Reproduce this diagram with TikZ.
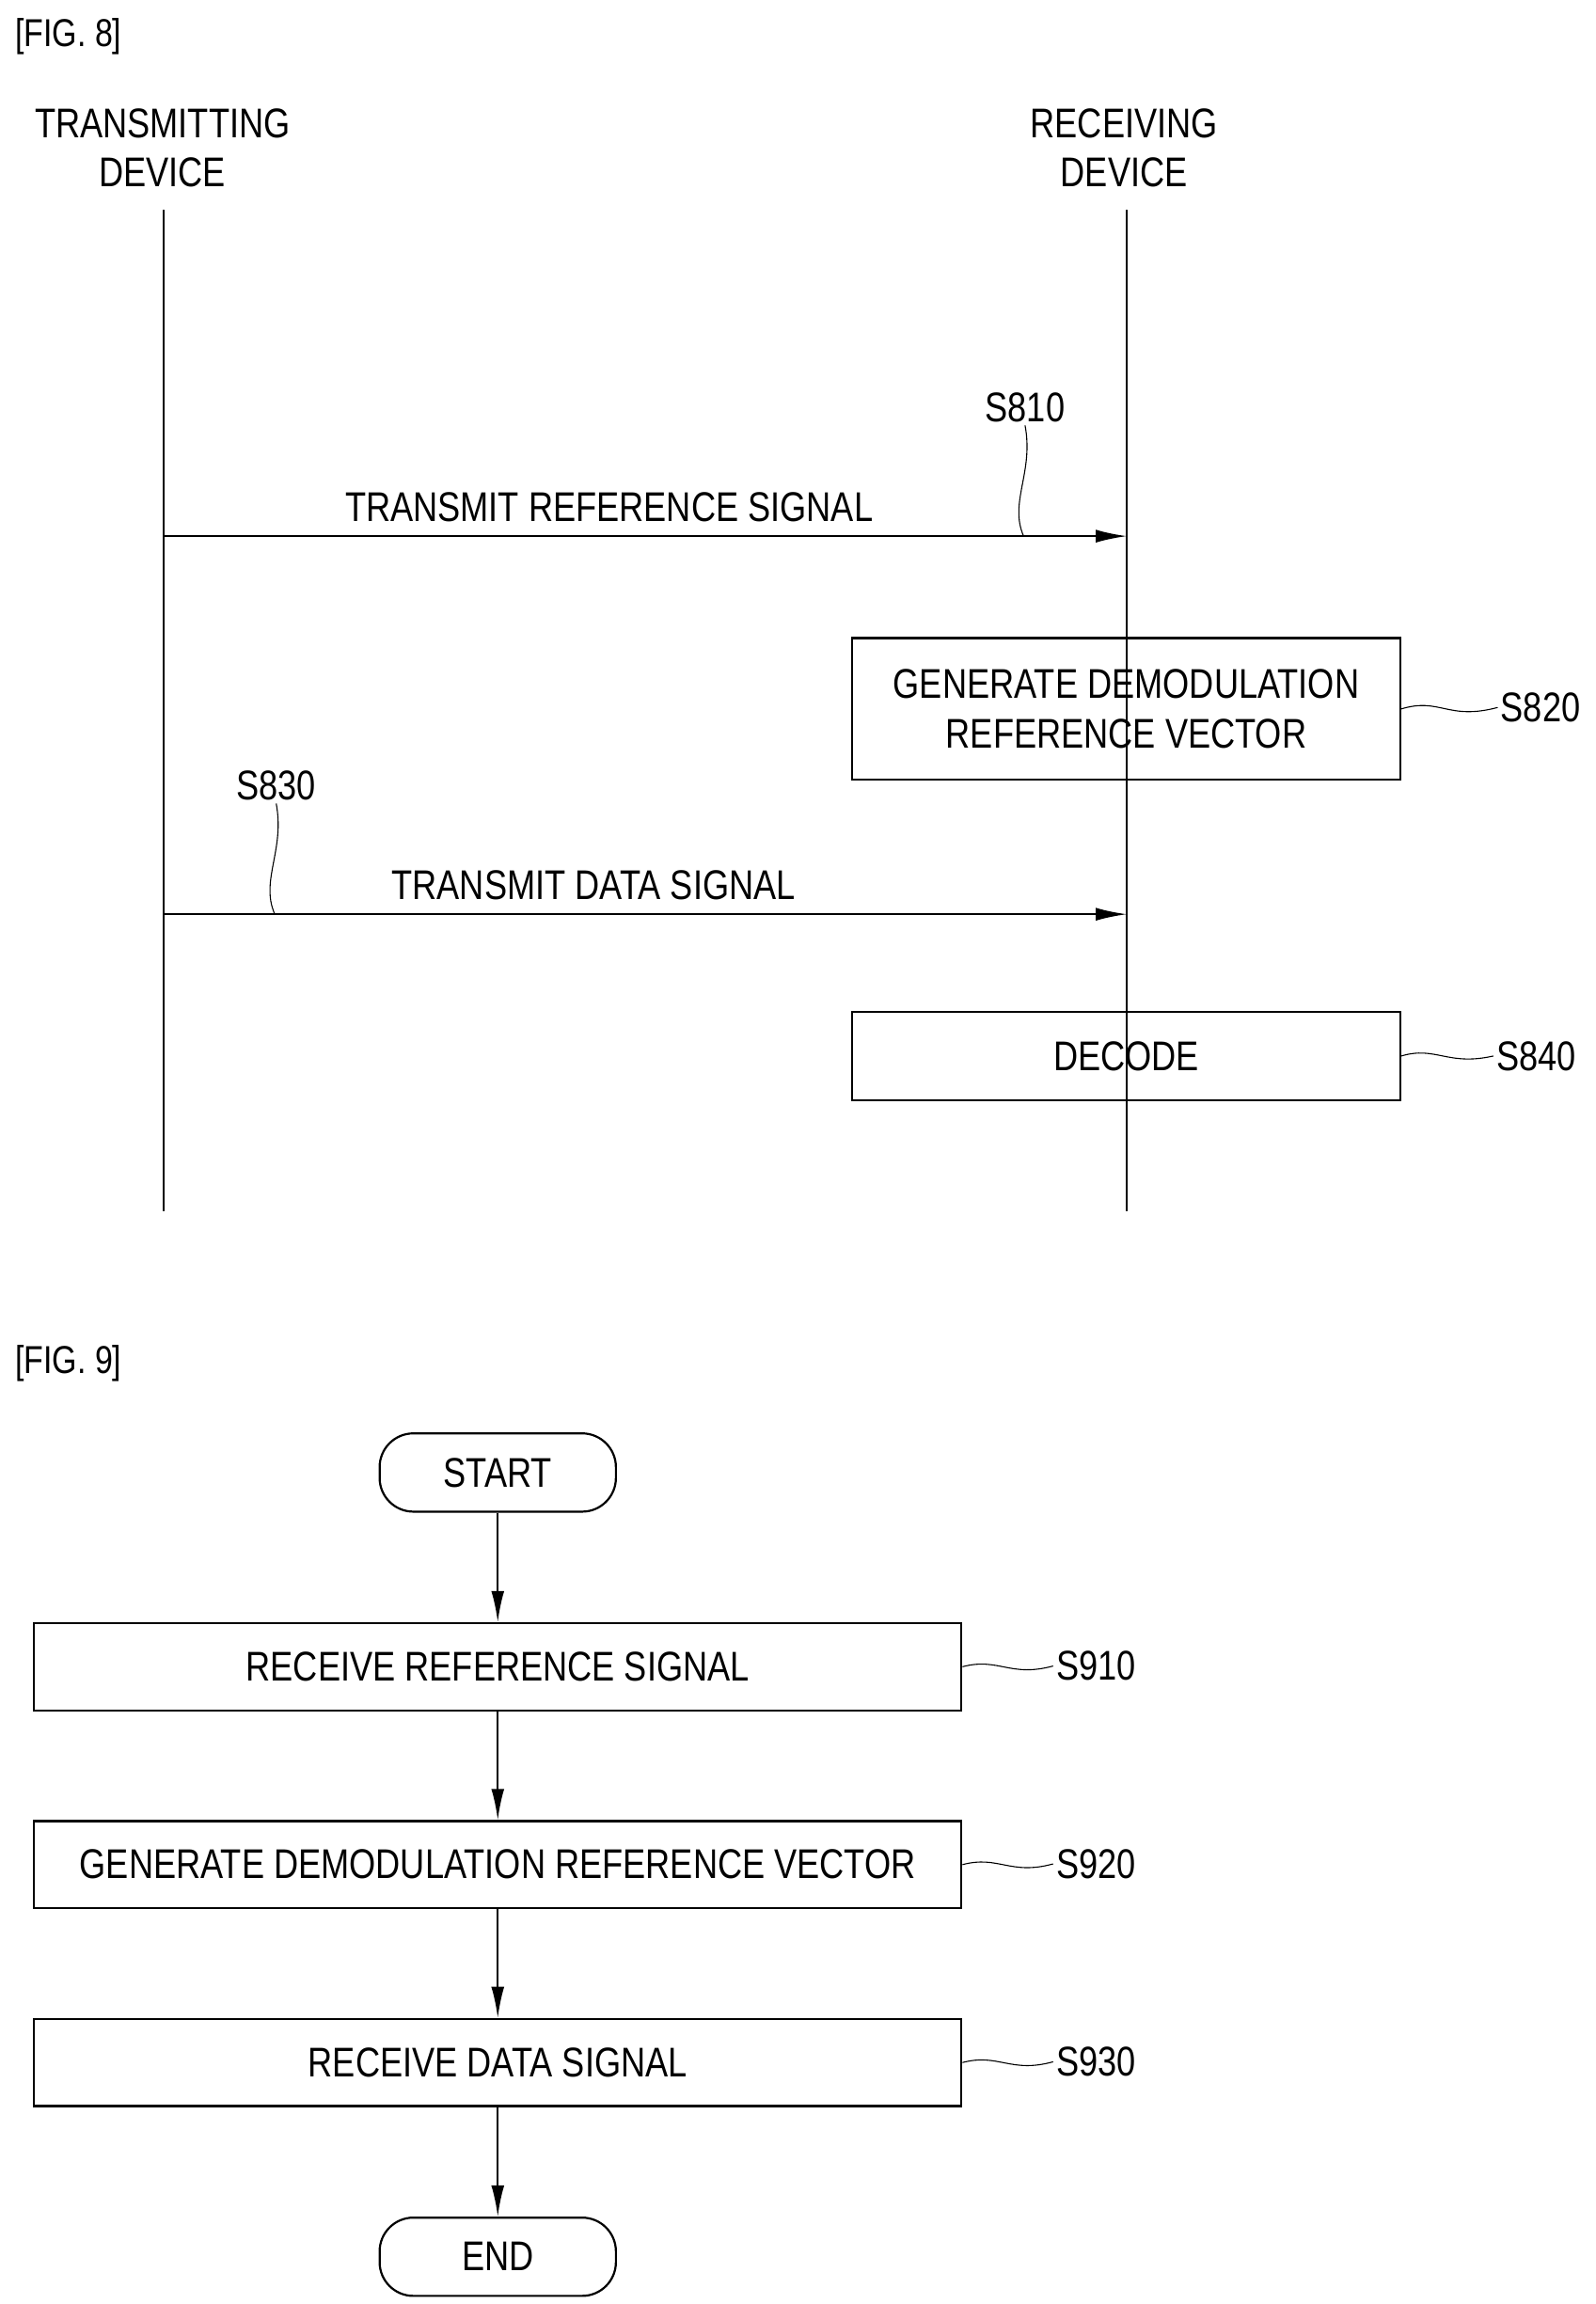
\documentclass[tikz,border=0pt]{standalone}
\usepackage{fontspec}
\setmainfont{Liberation Sans}[FakeStretch=0.82]
\usetikzlibrary{positioning,arrows.meta}
\begin{document}
\begin{tikzpicture}[x=0.02cm,y=-0.02cm,
box/.style={draw,thick,rectangle,font=\fontsize{16}{19}\selectfont,align=center,inner sep=0pt},
term/.style={draw,thick,rounded corners=13pt,minimum width=3.2cm,minimum height=1.06cm,font=\fontsize{16}{19}\selectfont},
txt/.style={font=\fontsize{16}{19}\selectfont,align=center,inner sep=1pt},
fig/.style={font=\fontsize{15}{18}\selectfont,anchor=west,inner sep=0pt},
msg/.style={thick,-{Latex[length=12pt,width=5pt]}},
flow/.style={thick,-{Latex[length=12pt,width=5pt]}},
wave/.style={thin}]
\useasboundingbox (0,0) rectangle (1080,1560);
% fig 8
\node (fig8) [fig] at (10,25) {[FIG. 8]};
\node (tx) [txt] at (110,100) {TRANSMITTING\\DEVICE};
\node (rx) [txt] at (761,100) {RECEIVING\\DEVICE};
\coordinate (txtop) at (111,142);
\coordinate (txbot) at (111,820);
\coordinate (rxtop) at (763,142);
\coordinate (rxbot) at (763,820);
\draw[thick] (txtop) -- (txbot);
\draw[thick] (rxtop) -- (rxbot);
\coordinate (m1a) at (111,363);
\coordinate (m1b) at (763,363);
\draw[msg] (m1a) -- node[txt,above=4pt,xshift=-14pt] {TRANSMIT REFERENCE SIGNAL} (m1b);
\node (s810) [txt] at (694,276) {S810};
\coordinate (w810) at (693,363);
\draw[wave] (w810) .. controls (683,340) and (700,320) .. (s810.south);
\node (demod) [box,minimum width=7.42cm,minimum height=1.92cm] at (762.5,480) {GENERATE DEMODULATION\\REFERENCE VECTOR};
\node (s820) [txt] at (1043,479) {S820};
\draw[wave] (demod.east) .. controls (975,472) and (980,488) .. (s820.west);
\coordinate (m2a) at (111,619);
\coordinate (m2b) at (763,619);
\draw[msg] (m2a) -- node[txt,above=4pt,xshift=-20pt] {TRANSMIT DATA SIGNAL} (m2b);
\node (s830) [txt] at (187,532) {S830};
\coordinate (w830) at (186,619);
\draw[wave] (w830) .. controls (176,596) and (193,576) .. (s830.south);
\node (decode) [box,minimum width=7.42cm,minimum height=1.2cm] at (762.5,715) {DECODE};
\node (s840) [txt] at (1040,715) {S840};
\draw[wave] (decode.east) .. controls (972,708) and (980,722) .. (s840.west);
% fig 9
\node (fig9) [fig] at (10,923) {[FIG. 9]};
\node (start) [term] at (337,997) {START};
\node (recref) [box,minimum width=12.56cm,minimum height=1.18cm] at (337,1128.5) {RECEIVE REFERENCE SIGNAL};
\node (genvec) [box,minimum width=12.56cm,minimum height=1.18cm] at (337,1262.5) {GENERATE DEMODULATION REFERENCE VECTOR};
\node (recdat) [box,minimum width=12.56cm,minimum height=1.18cm] at (337,1396.5) {RECEIVE DATA SIGNAL};
\node (end) [term] at (337,1528) {END};
\foreach \n/\s/\y in {recref/S910/1128,genvec/S920/1262,recdat/S930/1396}{
  \node (l\n) [txt] at (742,\y) {\s};
  \draw[wave] (\n.east) .. controls (676,1122-1128+\y) and (684,1136-1128+\y) .. (l\n.west);
}
\draw[flow] (start) -- (recref);
\draw[flow] (recref) -- (genvec);
\draw[flow] (genvec) -- (recdat);
\draw[flow] (recdat) -- (end);
\end{tikzpicture}
\end{document}
